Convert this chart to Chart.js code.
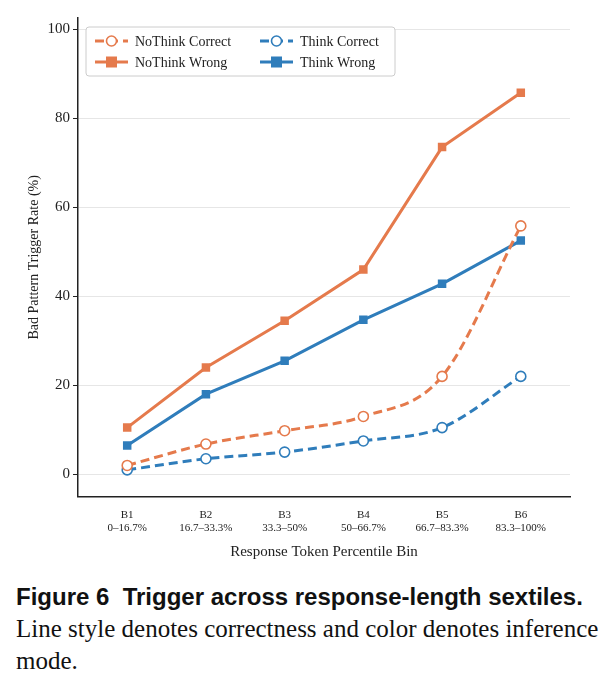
<!DOCTYPE html>
<html><head><meta charset="utf-8">
<script src="https://cdn.jsdelivr.net/npm/chart.js@4"></script>
<style>
body{margin:0;background:#fff;width:601px;}
#wrap{position:relative;width:601px;height:565px;}
.cap{font-family:"Liberation Serif",serif;font-size:25px;line-height:32px;margin:16px 0 0 16px;color:#111;}
.cap b{font-family:"Liberation Sans",sans-serif;font-size:24px;}
</style></head><body>
<div id="wrap"><canvas id="c"></canvas></div>
<div class="cap"><b>Figure 6&nbsp;&nbsp;Trigger across response-length sextiles.</b> Line style denotes correctness and color denotes inference mode.</div>
<script>
const bins=["B1","B2","B3","B4","B5","B6"];
const ranges=["0–16.7%","16.7–33.3%","33.3–50%","50–66.7%","66.7–83.3%","83.3–100%"];
const noThinkCorrect=[2,6.8,9.8,13,22,55.8];
const noThinkWrong=[10.5,24,34.5,46,73.5,85.7];
const thinkCorrect=[1,3.5,5,7.5,10.5,22];
const thinkWrong=[6.5,18,25.5,34.7,42.8,52.5];
const yTicks=[0,20,40,60,80,100];
const OR='#e57a4c', BL='#2f7dbb';
const pts=a=>a.map((y,i)=>({x:i,y}));
function ds(label,data,color,dashed){return{label,data:pts(data),borderColor:color,backgroundColor:dashed?'#fff':color,
 borderWidth:3,borderDash:dashed?[9,5]:[],pointStyle:dashed?'circle':'rect',pointRadius:dashed?5:6,pointBorderWidth:dashed?1.6:0,
 pointBorderColor:color,cubicInterpolationMode:dashed?'monotone':'default',tension:0};}
const datasets=[ds('NoThink Correct',noThinkCorrect,OR,true),ds('NoThink Wrong',noThinkWrong,OR,false),
 ds('Think Correct',thinkCorrect,BL,true),ds('Think Wrong',thinkWrong,BL,false)];
const legendPlugin={id:'lg',afterDraw(ch){const c=ch.ctx;c.save();
 const x0=86,y0=27,w=309,h=49;c.fillStyle='rgba(255,255,255,0.9)';c.strokeStyle='#ccc';c.lineWidth=1;
 c.beginPath();c.roundRect(x0,y0,w,h,3);c.fill();c.stroke();
 const pos=[[95,41],[95,62],[260,41],[260,62]];
 datasets.forEach((d,i)=>{const [x,y]=pos[i];c.strokeStyle=d.borderColor;c.lineWidth=3;c.setLineDash(d.borderDash);
  c.beginPath();c.moveTo(x,y);c.lineTo(x+33,y);c.stroke();c.setLineDash([]);
  if(d.pointStyle==='circle'){c.fillStyle='#fff';c.lineWidth=1.6;c.beginPath();c.arc(x+16.5,y,5,0,7);c.fill();c.stroke();}
  else{c.fillStyle=d.borderColor;c.fillRect(x+11,y-5.5,11,11);}
  c.fillStyle='#222';c.font='14px "Liberation Serif"';c.textBaseline='middle';c.fillText(d.label,x+40,y+1);});
 c.restore();}};
new Chart(document.getElementById('c'),{type:'line',data:{datasets},plugins:[legendPlugin],
options:{responsive:true,maintainAspectRatio:false,animation:false,
 layout:{padding:{top:18,right:31,left:22,bottom:0}},
 plugins:{legend:{display:false},tooltip:{enabled:false}},
 scales:{
  x:{type:'linear',min:-0.625,max:5.625,grid:{display:false},border:{color:'#222',width:1.5},
   afterBuildTicks:s=>{s.ticks=bins.map((b,i)=>({value:i}));},
   ticks:{color:'#222',font:{family:'Liberation Serif',size:11},callback:(v)=>[bins[v],ranges[v]],maxRotation:0,padding:4},
   title:{display:true,text:'Response Token Percentile Bin',color:'#222',font:{family:'Liberation Serif',size:15},padding:{top:4}}},
  y:{min:-5,max:102.5,afterFit:s=>{s.width=56;},
   afterBuildTicks:s=>{s.ticks=yTicks.map(v=>({value:v}));},
   grid:{color:'#e6e6e6',borderDash:[5,4],drawTicks:true,tickColor:'#222',tickLength:5},border:{color:'#222',width:1.5},
   ticks:{color:'#222',font:{family:'Liberation Serif',size:15}},
   title:{display:true,text:'Bad Pattern Trigger Rate (%)',color:'#222',font:{family:'Liberation Serif',size:14},padding:{bottom:2}}}}}});
</script></body></html>
